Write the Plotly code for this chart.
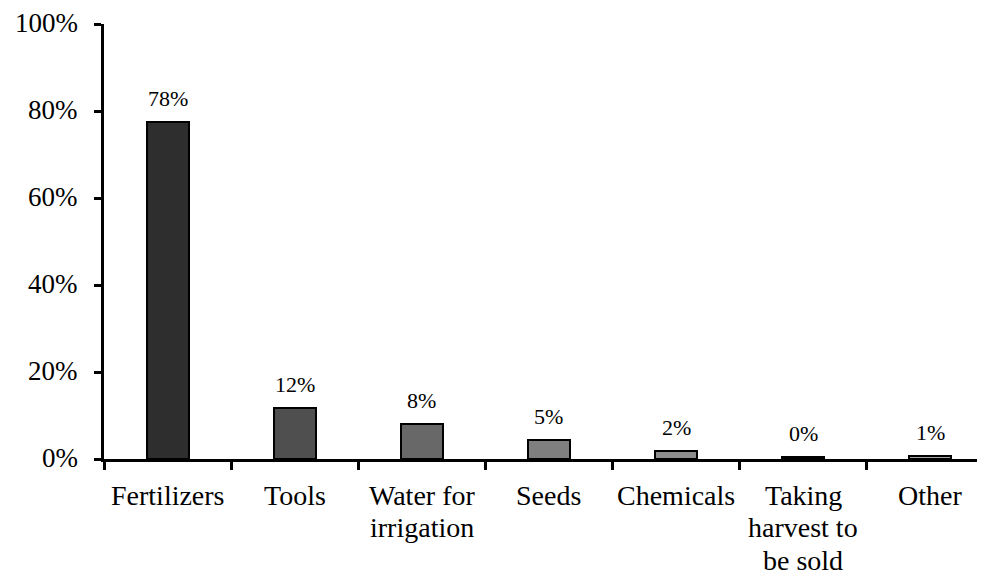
import plotly.graph_objects as go

categories = ["Fertilizers", "Tools", "Water for<br>irrigation", "Seeds", "Chemicals",
              "Taking<br>harvest to<br>be sold", "Other"]
values = [77.5, 11.8, 8.0, 4.4, 1.8, 0.4, 0.7]
labels = ["78%", "12%", "8%", "5%", "2%", "0%", "1%"]
colors = ["#2e2e2e", "#4f4f4f", "#686868", "#7f7f7f", "#8c8c8c", "#999999", "#a6a6a6"]
y_ticks = [0, 20, 40, 60, 80, 100]
y_ticklabels = ["0%", "20%", "40%", "60%", "80%", "100%"]

FONT = "Liberation Serif"

fig = go.Figure()
fig.add_trace(go.Bar(
    x=categories, y=values, width=0.33,
    marker=dict(color=colors, line=dict(color="black", width=2)),
    showlegend=False, hoverinfo="skip",
))

# value labels above bars
for c, v, t in zip(categories, values, labels):
    fig.add_annotation(x=c, y=v, text=t, showarrow=False, yanchor="bottom",
                       yshift=9, font=dict(family=FONT, size=22, color="black"))

# category labels (one annotation per line for tighter serif line spacing)
for c in categories:
    for i, line in enumerate(c.split("<br>")):
        fig.add_annotation(x=c, y=0, text=line, showarrow=False, yanchor="middle",
                           yshift=-36 - 32.5 * i,
                           font=dict(family=FONT, size=28, color="black"))

# y tick labels
for v, t in zip(y_ticks, y_ticklabels):
    fig.add_annotation(xref="paper", x=0, y=v, text=t, showarrow=False,
                       xanchor="right", yanchor="middle", xshift=-24, yshift=1,
                       font=dict(family=FONT, size=27, color="black"))

fig.update_layout(
    width=977, height=567,
    margin=dict(l=96, r=0, t=16, b=116, autoexpand=False),
    paper_bgcolor="white", plot_bgcolor="white",
    bargap=0,
)
fig.update_xaxes(
    range=[-0.5, 6.43], showline=True, linecolor="black", linewidth=3,
    ticks="outside", tickson="boundaries", ticklen=8, tickwidth=3, tickcolor="black",
    showticklabels=False, showgrid=False, zeroline=False, automargin=False,
)
fig.update_yaxes(
    range=[0, 100], tickvals=y_ticks,
    showline=True, linecolor="black", linewidth=3,
    ticks="outside", ticklen=7, tickwidth=3, tickcolor="black",
    showticklabels=False, showgrid=False, zeroline=False, automargin=False,
)

fig.write_html("out.html")
